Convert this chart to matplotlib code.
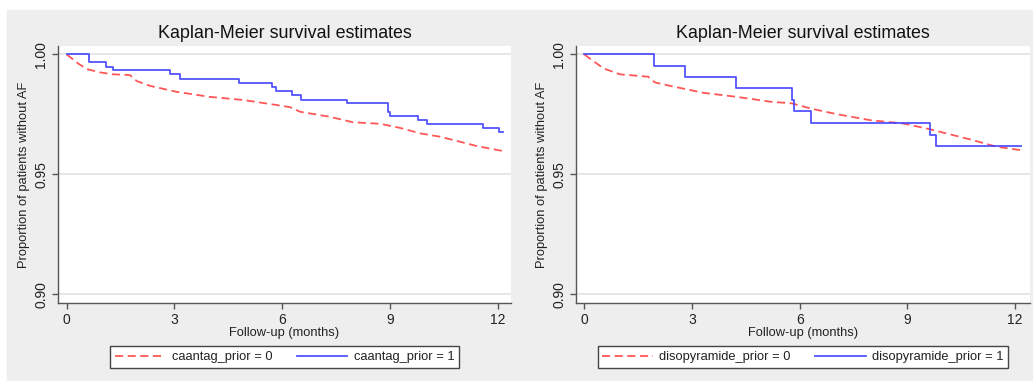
import matplotlib
matplotlib.use("Agg")
import matplotlib.pyplot as plt
from matplotlib.patches import Rectangle

plt.rcParams["font.family"] = ["Liberation Sans", "DejaVu Sans"]

# ── KM estimates, caantag ─────────────────────────────────
caantag0_t = [0, 0.32, 0.56, 0.93, 1.30, 1.76, 1.95, 2.32, 3.06, 3.99, 4.92,
              5.85, 6.22, 6.50, 7.33, 7.98, 8.73, 9.28, 9.84, 10.40, 11.14,
              11.42, 12.16]
caantag0_s = [1.0, 0.9962, 0.9939, 0.9925, 0.9917, 0.9914, 0.9889, 0.9869,
              0.9844, 0.9823, 0.9810, 0.9789, 0.9780, 0.9761, 0.9740, 0.9717,
              0.9711, 0.9694, 0.9671, 0.9657, 0.9629, 0.9618, 0.9597]
caantag1_t = [0, 0.63, 1.09, 1.30, 2.88, 3.17, 4.80, 5.72, 5.83, 6.28, 6.52,
              7.80, 8.96, 9.00, 9.78, 10.05, 11.59, 12.05, 12.14]
caantag1_s = [1.0, 0.9967, 0.9948, 0.9933, 0.9917, 0.9898, 0.9882, 0.9864,
              0.9847, 0.9830, 0.9812, 0.9796, 0.9761, 0.9743, 0.9726, 0.9708,
              0.9692, 0.9675, 0.9675]

# ── KM estimates, disopyramide ────────────────────────────
diso0_t = [0, 0.53, 0.99, 1.78, 1.97, 2.39, 3.31, 4.25, 5.17, 5.78, 6.29,
           7.03, 7.96, 8.89, 9.63, 10.74, 11.49, 12.16]
diso0_s = [1.0, 0.9942, 0.9917, 0.9907, 0.9883, 0.9869, 0.9840, 0.9823,
           0.9803, 0.9796, 0.9775, 0.9751, 0.9726, 0.9712, 0.9688, 0.9646,
           0.9615, 0.9601]
diso1_t = [0, 1.95, 2.80, 4.23, 5.79, 5.83, 6.32, 9.63, 9.79, 12.16]
diso1_s = [1.0, 0.9953, 0.9907, 0.9858, 0.9810, 0.9764, 0.9715, 0.9664,
           0.9617, 0.9617]

x_ticks = [0, 3, 6, 9, 12]
y_ticks = [0.90, 0.95, 1.00]

W, H = 1033, 381
BG = "#eeeeee"
AXIS = "#555555"
TEXT = "#222222"
RED = "#ff4545"
BLUE = "#4040ff"


def km_panel(fig, left, right, xlim, t0, s0, t1, s1, name):
    ax = fig.add_axes([left / W, 1 - 303 / H, (right - left) / W, 257 / H])
    ax.set_facecolor("white")
    for y in y_ticks:
        ax.axhline(y, color="#e6e6e6", lw=1.4, zorder=0)
    l0, = ax.plot(t0, s0, color=RED, lw=1.3, dashes=(4.5, 2.5), alpha=0.9)
    l1, = ax.plot(t1, s1, color=BLUE, lw=1.3, drawstyle="steps-post",
                  alpha=0.9)
    ax.set_xlim(*xlim)
    ax.set_ylim(0.8964, 1.0035)
    ax.set_xticks(x_ticks)
    ax.set_yticks(y_ticks)
    ax.set_yticklabels([f"{v:.2f}" for v in y_ticks], rotation=90,
                       va="center")
    ax.tick_params(colors=AXIS, labelcolor=TEXT, labelsize=10,
                   length=4, width=1)
    ax.tick_params(axis="y", pad=3)
    ax.tick_params(axis="x", pad=3)
    for side in ("top", "right"):
        ax.spines[side].set_visible(False)
    for side in ("left", "bottom"):
        ax.spines[side].set_color(AXIS)
        ax.spines[side].set_linewidth(1)
    ax.set_title("Kaplan-Meier survival estimates", fontsize=12.9,
                 color="#111111", pad=6)
    ax.set_xlabel("Follow-up (months)", fontsize=9.3, color=TEXT,
                  labelpad=0)
    ax.set_ylabel("Proportion of patients without AF", fontsize=9.3,
                  color=TEXT, labelpad=3)
    cx = (left + right) / 2 / W
    leg = fig.legend([l0, l1], [f"{name} = 0", f"{name} = 1"],
                     loc="center", bbox_to_anchor=(cx, 1 - 357 / H),
                     ncol=2, fontsize=9.3, frameon=True, fancybox=False,
                     handlelength=3.9, columnspacing=1.9, borderpad=0.35,
                     handletextpad=0.5, borderaxespad=0,
                     edgecolor="#444444", framealpha=1)
    leg.get_frame().set_linewidth(1)
    for txt in leg.get_texts():
        txt.set_color(TEXT)
    return ax


fig = plt.figure(figsize=(W / 100, H / 100), dpi=100, facecolor="white")
fig.patches.append(Rectangle((7 / W, 0), 1 - 7 / W, 1 - 10 / H,
                             transform=fig.transFigure, color=BG, zorder=-1))

km_panel(fig, 58, 511, (-0.242, 12.376), caantag0_t, caantag0_s,
         caantag1_t, caantag1_s, "caantag_prior")
km_panel(fig, 576, 1030, (-0.231, 12.415), diso0_t, diso0_s,
         diso1_t, diso1_s, "disopyramide_prior")

fig.savefig("out.png", dpi=100, facecolor="white")
